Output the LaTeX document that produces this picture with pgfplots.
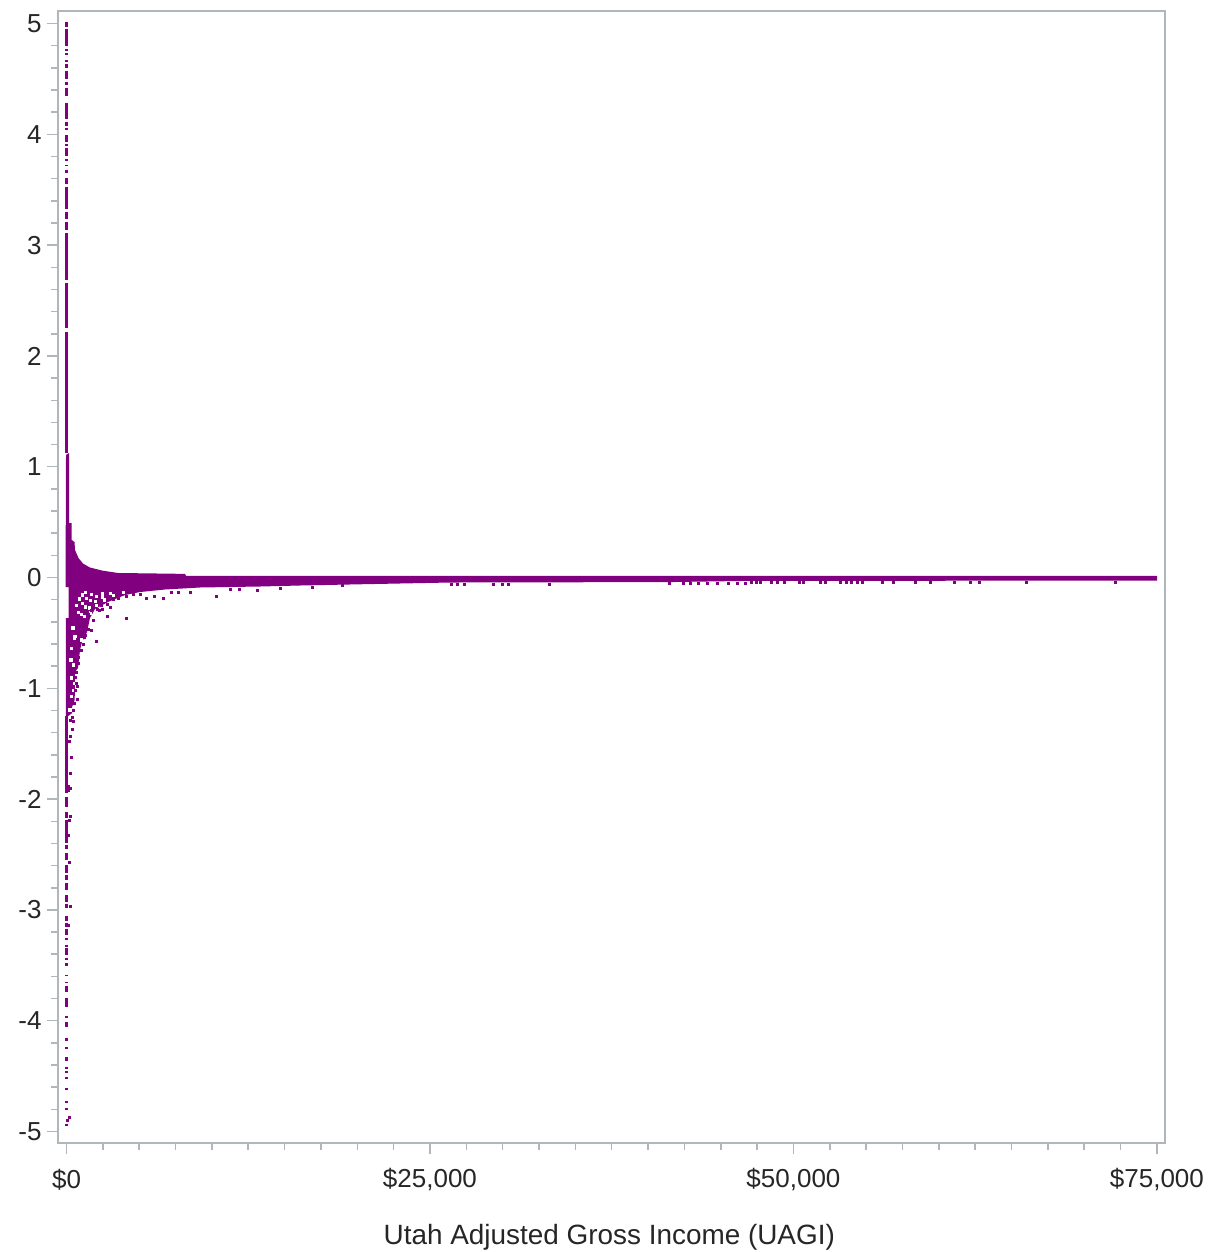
\documentclass[border=0pt]{standalone}
\usepackage{pgfplots}
\usepackage{fontspec}
\setmainfont{Liberation Sans}
\pgfplotsset{compat=1.18}
\definecolor{dotc}{HTML}{800080}
\definecolor{framec}{HTML}{B0B7BB}
\begin{document}
\begin{tikzpicture}
\path[use as bounding box] (-58pt,-109.3pt) rectangle (1153pt,1142.7pt);
\begin{axis}[
  scale only axis, width=1107pt, height=1131.7pt,
  xmin=-585, xmax=75555, ymin=-5.101, ymax=5.113,
  axis line style={framec,line width=1.8pt},
  tick style={framec,line width=1.5pt},
  major tick length=11pt, minor tick length=7pt,
  tick align=outside, xtick pos=bottom, ytick pos=left,
  scaled x ticks=false,
  xtick={0,25000,50000,75000},
  xticklabels={{\$0},{\$25,000},{\$50,000},{\$75,000}},
  minor x tick num=9,
  ytick={-5,-4,-3,-2,-1,0,1,2,3,4,5},
  yticklabels={-5,-4,-3,-2,-1,0,1,2,3,4,5},
  minor y tick num=4,
  ticklabel style={font=\fontsize{26}{30}\selectfont, text=black!85},
  xticklabel style={anchor=center, yshift=-26pt},
  yticklabel style={anchor=east, xshift=-2pt},
  every axis x label/.style={at={(axis description cs:0.498,0)},anchor=center,yshift=-95pt,
    font=\fontsize{27.9}{32}\selectfont, text=black!85},
  xlabel={Utah Adjusted Gross Income (UAGI)},
  unbounded coords=jump,
  clip=false
]
% solid band
\addplot[fill=dotc, draw=none] coordinates {
(-62,-0.005) (-62,0.113) (-34,1.106) (172,1.124) (172,0.492) (344,0.492) (358,0.339)
(550,0.321) (585,0.248) (825,0.176) (1135,0.126) (1616,0.090) (2442,0.063) (3542,0.041)
(8150,0.033) (8219,0.014) (75010,0.014) (75010,-0.028) (47010,-0.030) (41510,-0.041)
(26380,-0.045) (20190,-0.061) (16060,-0.072) (13310,-0.081) (9180,-0.090) (6775,-0.108)
(5055,-0.131) (4024,-0.158) (2854,-0.221) (1960,-0.284) (1616,-0.366) (1410,-0.492)
(1066,-0.582) (929,-0.655) (791,-0.817) (585,-0.853) (564,-1.106) (378,-1.169) (378,-1.224)
(103,-1.251) (-48,-1.251) (-48,-0.366) (138,-0.366) (138,-0.086) (-62,-0.086)
} -- cycle;
% white gaps between the arcs and speckles
\addplot[only marks, color=white, mark=square*, mark size=1.1pt, mark options={draw=white, line width=0pt, fill=white}] coordinates {
(688,-.253) (894,-.194) (1100,-.158) (1307,-.133)
(825,-.316) (1100,-.235) (1376,-.190) (1720,-.152)
(1032,-.334) (1307,-.266) (1651,-.210) (2063,-.169) (2476,-.141)
(1238,-.352) (1582,-.275) (1995,-.218) (2476,-.175) (3026,-.144)
(1651,-.320) (2063,-.256) (2614,-.202) (3233,-.163) (3920,-.135)
(447,-.456) (564,-.546) (1018,-.564) (330,-.639) (585,-.535) (468,-.790) (358,-.907)
(585,-.953) (468,-1.016) (358,-1.076) (241,-1.196) (310,-.745)
};
% thin spike above and below the band
\addplot[dotc, line width=2.3pt] table[row sep=\\] {
x y\\
0 5.010\\ 0 4.968\\ 0 nan\\ 0 4.950\\ 0 4.793\\ 0 nan\\ 0 4.768\\ 0 4.754\\ 0 nan\\ 0 4.736\\ 0 4.718\\ 0 nan\\
0 4.673\\ 0 4.655\\ 0 nan\\ 0 4.637\\ 0 4.601\\ 0 nan\\ 0 4.576\\ 0 4.499\\ 0 nan\\ 0 4.474\\ 0 4.447\\ 0 nan\\
0 4.420\\ 0 4.342\\ 0 nan\\ 0 4.287\\ 0 4.138\\ 0 nan\\ 0 4.107\\ 0 4.077\\ 0 nan\\ 0 4.056\\ 0 4.035\\ 0 nan\\
0 3.996\\ 0 3.935\\ 0 nan\\ 0 3.915\\ 0 3.897\\ 0 nan\\ 0 3.878\\ 0 3.806\\ 0 nan\\ 0 3.779\\ 0 3.755\\ 0 nan\\
0 3.725\\ 0 3.710\\ 0 nan\\ 0 3.680\\ 0 3.650\\ 0 nan\\ 0 3.608\\ 0 3.553\\ 0 nan\\ 0 3.529\\ 0 3.325\\ 0 nan\\
0 3.303\\ 0 3.235\\ 0 nan\\ 0 3.210\\ 0 3.138\\ 0 nan\\ 0 3.111\\ 0 2.686\\ 0 nan\\ 0 2.659\\ 0 2.253\\ 0 nan\\
0 2.217\\ 0 1.124\\ 0 nan\\
0 -1.251\\ 0 -1.946\\ 0 nan\\ 172 -1.874\\ 172 -1.937\\ 172 nan\\ 0 -1.982\\ 0 -2.072\\ 0 nan\\ 0 -2.118\\ 0 -2.172\\ 0 nan\\
0 -2.190\\ 0 -2.397\\ 0 nan\\ 0 -2.411\\ 0 -2.452\\ 0 nan\\ 0 -2.488\\ 0 -2.551\\ 0 nan\\ 0 -2.596\\ 0 -2.668\\ 0 nan\\
0 -2.686\\ 0 -2.732\\ 0 nan\\ 0 -2.759\\ 0 -2.822\\ 0 nan\\ 0 -2.867\\ 0 -2.927\\ 0 nan\\ 0 -2.948\\ 0 -2.982\\ 0 nan\\
0 -3.057\\ 0 -3.099\\ 0 nan\\ 0 -3.120\\ 0 -3.153\\ 0 nan\\ 0 -3.174\\ 0 -3.228\\ 0 nan\\ 0 -3.255\\ 0 -3.273\\ 0 nan\\
0 -3.318\\ 0 -3.334\\ 0 nan\\ 0 -3.346\\ 0 -3.409\\ 0 nan\\ 0 -3.436\\ 0 -3.454\\ 0 nan\\ 0 -3.478\\ 0 -3.508\\ 0 nan\\
0 -3.585\\ 0 -3.598\\ 0 nan\\ 0 -3.650\\ 0 -3.662\\ 0 nan\\ 0 -3.689\\ 0 -3.740\\ 0 nan\\ 0 -3.797\\ 0 -3.876\\ 0 nan\\
0 -3.957\\ 0 -3.978\\ 0 nan\\ 0 -4.011\\ 0 -4.056\\ 0 nan\\ 0 -4.156\\ 0 -4.183\\ 0 nan\\ 0 -4.237\\ 0 -4.258\\ 0 nan\\
0 -4.327\\ 0 -4.363\\ 0 nan\\ 0 -4.420\\ 0 -4.434\\ 0 nan\\ 0 -4.456\\ 0 -4.474\\ 0 nan\\ 0 -4.510\\ 0 -4.528\\ 0 nan\\
0 -4.610\\ 0 -4.628\\ 0 nan\\ 0 -4.725\\ 0 -4.745\\ 0 nan\\ 0 -4.790\\ 0 -4.808\\ 0 nan\\ 0 -4.935\\ 0 -4.953\\
};
% isolated points
\addplot[only marks, color=dotc, mark=square*, mark size=1pt, mark options={draw=dotc, line width=0pt, fill=dotc}] coordinates {
(289,-2.154) (220,-2.190) (151,-2.325) (172,-2.569) (289,-2.966) (151,-3.138) (172,-4.872) (89,-4.899)
(674,-.953) (743,-.986) (743,-1.097) (447,-1.302) (378,-1.368) (289,-1.431) (220,-1.483) (330,-1.621)
(289,-1.765) (289,-1.901)
(2063,-.580) (4127,-.368) (2786,-.348) (2992,-.266) (1706,-.474) (1479,-.465) (1823,-.384) (2283,-.300)
(2510,-.287) (1252,-.537) (5489,-.188) (6066,-.173) (6658,-.188) (7236,-.131) (7690,-.131) (8542,-.131)
(10331,-.173) (13150,-.113) (16954,-.092) (19017,-.072) (11250,-.104) (14685,-.095) (11933,-.108)
(26494,-.059) (26859,-.059) (27341,-.059) (29402,-.059) (30022,-.059) (30434,-.059) (33255,-.059)
(41509,-.050) (42407,-.050) (42888,-.050) (43438,-.050) (44057,-.050) (44744,-.050) (45501,-.050) (46120,-.050) (46670,-.050)
(47127,-.043) (47471,-.043) (47767,-.043) (48503,-.043) (48936,-.043) (49418,-.043) (50450,-.043) (50725,-.043)
(51894,-.043) (52218,-.043) (53206,-.043) (53667,-.043) (54011,-.043) (54396,-.043) (54740,-.043) (56158,-.043)
(56915,-.043) (58407,-.043) (59439,-.043) (61062,-.043) (62211,-.043) (62830,-.043) (66062,-.043) (72164,-.043)
% jagged lower edge of the dense part
(1500,-.33) (1750,-.30) (2100,-.29) (2400,-.25) (2800,-.24) (3200,-.20) (3600,-.19) (4100,-.175) (4600,-.15) (5100,-.15)
(1300,-.52) (1150,-.60) (1000,-.66) (850,-.72) (800,-.78) (700,-.86) (650,-.90) (620,-1.02) (560,-1.14)
(470,-1.20) (420,-1.26) (300,-1.29)
};
\end{axis}
\end{tikzpicture}
\end{document}
